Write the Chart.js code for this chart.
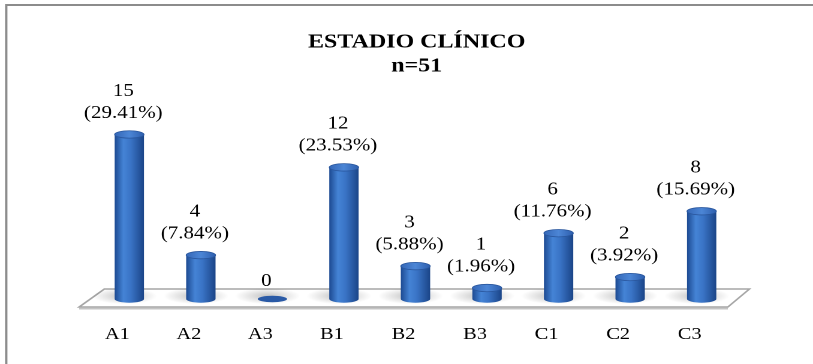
<!DOCTYPE html>
<html>
<head>
<meta charset="utf-8">
<script src="https://cdn.jsdelivr.net/npm/chart.js@4.4.1/dist/chart.umd.min.js"></script>
<style>
  html, body { margin: 0; padding: 0; background: #fff; overflow: hidden; }
  /* la imagen original esta estirada en horizontal */
  #wrap { width: 678px; height: 364px; transform: scaleX(1.1991); transform-origin: 0 0; }
</style>
</head>
<body>
<div id="wrap"><canvas id="chart" width="678" height="364"></canvas></div>
<script>
// --- Datos ---
const categorias = ['A1', 'A2', 'A3', 'B1', 'B2', 'B3', 'C1', 'C2', 'C3'];
const casos = [15, 4, 0, 12, 3, 1, 6, 2, 8];
const porcentajes = ['29.41%', '7.84%', '', '23.53%', '5.88%', '1.96%', '11.76%', '3.92%', '15.69%'];
const titulo = ['ESTADIO CLÍNICO', 'n=51'];

const FONT = "'Liberation Serif', 'Times New Roman', serif";
const BAR_SHIFT = 10;   // desplazamiento de perspectiva 3D

function drawCylinder(ctx, cx, top, base, w) {
    const rx = w / 2, ry = 3.7;
    if (base - top < 1) {
        ctx.beginPath();
        ctx.ellipse(cx, base, rx, 3.2, 0, 0, Math.PI * 2);
        ctx.fillStyle = '#2a5aa6';
        ctx.fill();
        return;
    }
    const g = ctx.createLinearGradient(cx - rx, 0, cx + rx, 0);
    g.addColorStop(0, '#1d4a92');
    g.addColorStop(0.3, '#4584d6');
    g.addColorStop(0.55, '#3a74c6');
    g.addColorStop(1, '#1b4588');
    ctx.beginPath();
    ctx.moveTo(cx - rx, top);
    ctx.lineTo(cx - rx, base);
    ctx.ellipse(cx, base, rx, ry, 0, Math.PI, 0, true);
    ctx.lineTo(cx + rx, top);
    ctx.ellipse(cx, top, rx, ry, 0, 0, Math.PI, true);
    ctx.closePath();
    ctx.fillStyle = g;
    ctx.fill();

    const gt = ctx.createLinearGradient(cx - rx, 0, cx + rx, 0);
    gt.addColorStop(0, '#3568b8');
    gt.addColorStop(0.5, '#4c86d6');
    gt.addColorStop(1, '#2e5fae');
    ctx.beginPath();
    ctx.ellipse(cx, top, rx, ry, 0, 0, Math.PI * 2);
    ctx.fillStyle = gt;
    ctx.fill();
    ctx.lineWidth = 0.8;
    ctx.strokeStyle = '#2a579e';
    ctx.stroke();
}

const cylinderPlugin = {
    id: 'cylinders',
    beforeDatasetsDraw(chart) {
        const { ctx, chartArea: a } = chart;
        const base = chart.scales.y.getPixelForValue(0);
        // borde del grafico
        ctx.save();
        ctx.strokeStyle = '#8c8c8c';
        ctx.lineWidth = 2;
        ctx.beginPath();
        ctx.moveTo(5.2, 364);
        ctx.lineTo(5.2, 5);
        ctx.lineTo(678, 5);
        ctx.stroke();

        // piso 3D
        const fl = a.left - 2, fr = a.right + 2, back = base - 10, front = base + 8;
        ctx.beginPath();
        ctx.moveTo(fl, front);
        ctx.lineTo(fl + 21, back);
        ctx.lineTo(fr + 18, back);
        ctx.lineTo(fr, front);
        ctx.closePath();
        ctx.fillStyle = '#ffffff';
        ctx.fill();
        ctx.strokeStyle = '#a6a6a6';
        ctx.lineWidth = 1.5;
        ctx.stroke();
        ctx.beginPath();
        ctx.moveTo(fl, front + 1.5);
        ctx.lineTo(fr, front + 1.5);
        ctx.strokeStyle = '#c4c4c4';
        ctx.lineWidth = 2;
        ctx.stroke();

        // sombras bajo los cilindros
        chart.getDatasetMeta(0).data.forEach(el => {
            const cx = el.x + BAR_SHIFT;
            const rg = ctx.createRadialGradient(cx - 4, base - 3, 2, cx - 4, base - 3, el.width * 1.1);
            rg.addColorStop(0, 'rgba(0,0,0,0.22)');
            rg.addColorStop(1, 'rgba(0,0,0,0)');
            ctx.save();
            ctx.translate(0, base - 3);
            ctx.scale(1, 0.3);
            ctx.translate(0, -(base - 3));
            ctx.fillStyle = rg;
            ctx.beginPath();
            ctx.arc(cx - 4, base - 3, el.width * 1.1, 0, Math.PI * 2);
            ctx.fill();
            ctx.restore();
        });
        ctx.restore();
    },
    afterDatasetsDraw(chart) {
        const { ctx } = chart;
        const meta = chart.getDatasetMeta(0);
        ctx.save();
        meta.data.forEach((el, i) => {
            drawCylinder(ctx, el.x + BAR_SHIFT, el.y, el.base, el.width);
        });

        ctx.fillStyle = '#000';
        ctx.textAlign = 'center';
        ctx.textBaseline = 'alphabetic';

        // etiquetas de valores
        ctx.font = `17.5px ${FONT}`;
        meta.data.forEach((el, i) => {
            const x = el.x + 5;
            if (casos[i] === 0) {
                ctx.fillText(String(casos[i]), x, el.y - 13);
            } else {
                ctx.fillText('(' + porcentajes[i] + ')', x, el.y - 16.7);
                ctx.fillText(String(casos[i]), x, el.y - 38.7);
            }
        });

        // categorias
        ctx.font = `17px ${FONT}`;
        categorias.forEach((c, i) => {
            ctx.fillText(c, chart.scales.x.getPixelForValue(i), 339);
        });

        // titulo
        ctx.font = `bold 20px ${FONT}`;
        ctx.fillText(titulo[0], 347.5, 47.5);
        ctx.fillText(titulo[1], 347.5, 71.5);
        ctx.restore();
    }
};

new Chart(document.getElementById('chart'), {
    type: 'bar',
    data: {
        labels: categorias,
        datasets: [{
            data: casos,
            backgroundColor: 'rgba(0,0,0,0)',
            borderWidth: 0,
            barPercentage: 0.41,
            categoryPercentage: 1
        }]
    },
    options: {
        responsive: false,
        animation: false,
        devicePixelRatio: 2,
        layout: { padding: { left: 68, right: 73, top: 79.6, bottom: 65 } },
        scales: {
            x: { display: false },
            y: { display: false, min: 0, max: 20 }
        },
        plugins: { legend: { display: false }, tooltip: { enabled: false } }
    },
    plugins: [cylinderPlugin]
});
</script>
</body>
</html>
